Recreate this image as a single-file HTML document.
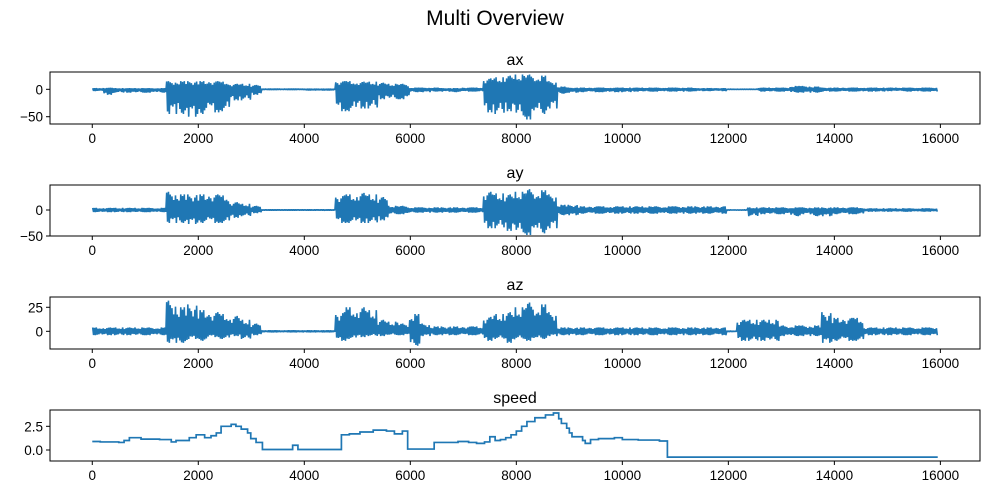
<!DOCTYPE html>
<html><head><meta charset="utf-8"><style>
body{margin:0;background:#fff}
svg{display:block;font-family:"Liberation Sans","DejaVu Sans",sans-serif}
</style></head><body>
<svg id="fig" width="990" height="495" viewBox="0 0 990 495">
<text x="495" y="25" text-anchor="middle" font-size="21" fill="#000">Multi Overview</text>
</svg>
<script>
const xTicks=[0,2000,4000,6000,8000,10000,12000,14000,16000];
const xMaxData=15950;
const axHi=[2,3,2,2,2,2,2,15,15,15,15,15,14,10,10,8,1,1,1,1,1,1,1,15,15,14,14,12,10,10,3,3,3,2,2,3,3,20,22,25,27,27,25,15,5,3,3,3,3,3,3,3,3,3,3,3,3,2,2,2,0.5,0.5,0.5,3,3,3,6,6,5,3,3,3,3,3,3,3,3,3,3,3];
const axLo=[-3,-10,-6,-6,-6,-6,-6,-45,-45,-50,-45,-42,-40,-20,-20,-10,-1,-1,-1,-1,-2,-2,-2,-40,-40,-35,-35,-18,-18,-18,-5,-5,-4,-4,-5,-4,-4,-42,-45,-40,-50,-55,-45,-35,-8,-6,-5,-5,-5,-5,-5,-4,-4,-4,-4,-4,-4,-3,-3,-3,-0.5,-0.5,-0.5,-4,-4,-4,-6,-6,-6,-4,-4,-4,-4,-4,-4,-3,-3,-4,-4,-4];
const ayHi=[4,4,4,4,4,4,4,35,30,30,30,30,28,15,12,8,1,1,1,1,1,1,1,28,30,33,30,25,8,8,5,5,5,5,5,5,5,35,32,30,35,40,38,30,10,10,7,7,7,7,7,7,7,7,7,7,7,7,7,7,0.5,0.5,5,5,5,5,5,5,5,5,5,5,5,3,3,3,3,3,3,3];
const ayLo=[-4,-4,-4,-4,-4,-4,-4,-25,-25,-27,-25,-25,-25,-15,-12,-6,-1,-1,-1,-1,-1,-1,-1,-25,-25,-25,-25,-20,-8,-8,-5,-5,-5,-5,-5,-5,-5,-35,-35,-40,-45,-48,-45,-35,-10,-10,-7,-7,-7,-7,-7,-7,-7,-7,-7,-7,-7,-7,-7,-7,-0.5,-0.5,-12,-8,-8,-8,-12,-8,-12,-12,-8,-8,-8,-3,-3,-3,-3,-3,-3,-3];
const azHi=[4,4,4,4,4,4,4,32,25,28,22,20,18,16,12,8,1,1,1,1,1,1,1,20,25,25,22,12,10,8,18,8,5,5,5,5,5,15,18,20,25,30,28,20,4,4,4,4,4,4,4,4,4,4,4,4,4,4,4,4,0.5,12,12,12,12,6,6,6,6,20,14,14,14,4,4,4,4,4,4,4];
const azLo=[-4,-4,-4,-4,-4,-4,-4,-12,-12,-8,-10,-6,-8,-5,-8,-4,-1,-1,-1,-1,-1,-1,-1,-10,-8,-6,-5,-5,-4,-4,-15,-5,-4,-4,-4,-4,-4,-10,-8,-12,-8,-10,-8,-5,-4,-4,-4,-4,-4,-4,-4,-4,-4,-4,-4,-4,-4,-4,-4,-4,-0.5,-10,-10,-10,-10,-5,-5,-5,-5,-12,-10,-10,-10,-4,-4,-4,-4,-4,-4,-4];
const spX=[0,150,500,600,700,920,1270,1490,1580,1830,1960,2120,2240,2340,2430,2620,2710,2810,2930,2990,3090,3210,3780,3880,4700,4850,5050,5300,5550,5700,5850,5950,6450,6900,7100,7250,7400,7500,7600,7700,7800,7900,8000,8100,8200,8350,8550,8700,8800,8850,8950,9000,9050,9250,9300,9400,9550,9850,10000,10300,10700,10850];
const spV=[0.9,0.85,0.8,1.0,1.3,1.15,1.1,0.85,1.0,1.3,1.6,1.3,1.5,1.8,2.5,2.7,2.5,2.2,1.8,1.2,0.8,0.05,0.5,0.05,1.6,1.7,1.9,2.1,2.0,1.7,2.0,0.1,0.8,0.9,0.8,0.7,0.85,1.4,1.0,1.1,1.3,1.6,2.0,2.5,3.0,3.4,3.7,3.9,3.3,2.8,2.3,1.8,1.4,1.0,0.7,1.1,1.2,1.3,1.1,1.05,0.95,-0.75];
const panels=[
 {name:'ax',top:72,bot:124,ymin:-63.3,ymax:31.6,ticks:[-50,0],labels:['−50','0'],hi:axHi,lo:axLo},
 {name:'ay',top:185,bot:236,ymin:-50,ymax:48.1,ticks:[-50,0],labels:['−50','0'],hi:ayHi,lo:ayLo},
 {name:'az',top:297,bot:349,ymin:-18.4,ymax:35.7,ticks:[0,25],labels:['0','25'],hi:azHi,lo:azLo},
 {name:'speed',top:410,bot:461,ymin:-1.16,ymax:4.22,ticks:[0,2.5],labels:['0.0','2.5'],steps:true}
];
const texture=[1,0.75,0.9,0.55,1,0.8,0.65,0.95,0.7,1,0.6,0.85];
const NS='http://www.w3.org/2000/svg';
const svg=document.getElementById('fig');
const L=50,R=980,xmin=-797.5,xmax=16747.5;
function xs(v){return L+(v-xmin)/(xmax-xmin)*(R-L);}
function mk(t,a,p){const e=document.createElementNS(NS,t);for(const k in a)e.setAttribute(k,a[k]);(p||svg).appendChild(e);return e;}
panels.forEach(p=>{
 const g=mk('g',{});
 
 
 const ys=v=>p.bot-(v-p.ymin)/(p.ymax-p.ymin)*(p.bot-p.top);
 const c='#1f77b4';
 if(p.steps){
  let d='';
  for(let i=0;i<spX.length;i++){
   const x=xs(spX[i]),y=ys(spV[i]);
   if(i===0)d+='M'+x+','+y;else d+=' L'+x+','+ys(spV[i-1])+' L'+x+','+y;
  }
  d+=' L'+xs(xMaxData)+','+ys(spV[spV.length-1]);
  const ln=mk('path',{d:d,fill:'none',stroke:c,'stroke-width':1.7},g);
  
  
 } else {
  const n=p.hi.length;const bw=xMaxData/n;const sub=12;
  let d='';let k=0;
  for(let i=0;i<n;i++){
   for(let j=0;j<sub;j++){
    const x=xs(i*bw+(j+0.5)*bw/sub);
    const f=texture[(k*7+i)%texture.length];
    const v=((k%2===0)?p.hi[i]:p.lo[i])*f;
    d+=(k===0?'M':' L')+x.toFixed(2)+','+ys(v).toFixed(1);
    k++;
   }
  }
  const ln=mk('path',{d:d,fill:'none',stroke:c,'stroke-width':1.6,'stroke-linejoin':'bevel'},g);
  
  
 }
 const fr=mk('rect',{x:L,y:p.top,width:R-L,height:p.bot-p.top,fill:'none',stroke:'#000','stroke-width':1},g);
 
 
 const t=mk('text',{x:(L+R)/2,y:p.top-7,'text-anchor':'middle','font-size':16},g);
 t.textContent=p.name;
 
 
 xTicks.forEach(v=>{
  const x=xs(v);
  mk('line',{x1:x,x2:x,y1:p.bot,y2:p.bot+4,stroke:'#000'},g);
  const tl=mk('text',{x:x,y:p.bot+19,'text-anchor':'middle','font-size':13.5},g);
  tl.textContent=v;
  
  
 });
 p.ticks.forEach((v,i)=>{
  const y=ys(v);
  mk('line',{x1:L-4,x2:L,y1:y,y2:y,stroke:'#000'},g);
  const tl=mk('text',{x:L-7,y:y+5,'text-anchor':'end','font-size':13.5},g);
  tl.textContent=p.labels[i];
  
  
 });
});
</script>
</body></html>
